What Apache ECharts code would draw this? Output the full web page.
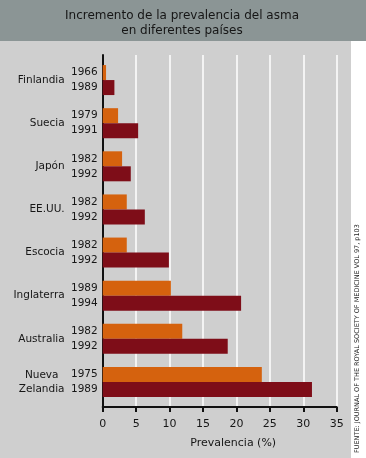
<!DOCTYPE html>
<html>
<head>
<meta charset="utf-8">
<script src="https://cdn.jsdelivr.net/npm/echarts@6/dist/echarts.min.js"></script>
<style>html,body{margin:0;padding:0;background:#fff}#c{width:366px;height:458px}</style>
</head>
<body>
<div id="c"></div>
<script>
var countries = ['Finlandia', 'Suecia', 'Japón', 'EE.UU.', 'Escocia', 'Inglaterra', 'Australia', 'Nueva Zelandia'];
var yearsFirst = ['1966', '1979', '1982', '1982', '1982', '1989', '1982', '1975'];
var yearsSecond = ['1989', '1991', '1992', '1992', '1992', '1994', '1992', '1989'];
var valuesFirst = [0.5, 2.3, 2.9, 3.6, 3.6, 10.2, 11.9, 23.8];
var valuesSecond = [1.75, 5.3, 4.2, 6.3, 9.9, 20.7, 18.7, 31.3];
var xTicks = [0, 5, 10, 15, 20, 25, 30, 35];

var FONT = 'DejaVu Sans';
var chart = echarts.init(document.getElementById('c'));
var L = 102.7, R = 366 - 336.7;
chart.setOption({
  animation: false,
  textStyle: { fontFamily: FONT },
  graphic: [
    { type: 'rect', z: -10, shape: { x: 0, y: 0, width: 366, height: 41 }, style: { fill: '#8b9595' } },
    { type: 'rect', z: -10, shape: { x: 0, y: 41, width: 351, height: 417 }, style: { fill: '#cfcfcf' } },
    { type: 'text', x: 182, y: 23, style: { text: 'Incremento de la prevalencia del asma\nen diferentes países', fontFamily: FONT, fontSize: 12, lineHeight: 15, fill: '#161616', align: 'center', verticalAlign: 'middle' } },
    { type: 'text', x: 357, y: 453, rotation: Math.PI / 2, style: { text: 'FUENTE: JOURNAL OF THE ROYAL SOCIETY OF MEDICINE VOL 97, p103', fontFamily: FONT, fontSize: 6.5, fill: '#222', align: 'left', verticalAlign: 'middle' } }
  ],
  grid: [
    { left: L, right: R, top: 55, height: 352 },
    { left: L, right: R, top: 58.5, height: 345 }
  ],
  xAxis: [
    { gridIndex: 0, type: 'value', min: xTicks[0], max: xTicks[xTicks.length - 1], interval: 5,
      axisLine: { show: true, lineStyle: { color: '#111', width: 2 } },
      axisTick: { show: true, length: 5, lineStyle: { color: '#111', width: 2 } },
      axisLabel: { fontSize: 11, color: '#161616', margin: 12, fontFamily: FONT },
      splitLine: { show: true, lineStyle: { color: '#ffffff', width: 1.5 } },
      name: 'Prevalencia (%)', nameLocation: 'middle', nameGap: 31,
      nameTextStyle: { fontSize: 11, color: '#161616', fontFamily: FONT, padding: [0, 0, 0, 27] } },
    { gridIndex: 1, type: 'value', min: 0, max: 35, show: false }
  ],
  yAxis: [
    { gridIndex: 0, type: 'value', min: 0, max: 1,
      axisLine: { show: true, lineStyle: { color: '#111', width: 2 } },
      axisTick: { show: false }, axisLabel: { show: false }, splitLine: { show: false } },
    { gridIndex: 1, type: 'category', data: countries, inverse: true,
      axisLine: { show: false }, axisTick: { show: false },
      axisLabel: { margin: 38, fontSize: 10.5, color: '#161616', fontFamily: FONT, align: 'right',
        formatter: function (v) {
          if (v.indexOf(' ') > 0) {
            return v.split(' ').map(function (s) { return '{c|' + s + '}'; }).join('\n');
          }
          return v;
        },
        rich: { c: { width: 46, align: 'center', fontSize: 10.5, lineHeight: 14, color: '#161616', fontFamily: FONT } }
      } }
  ],
  series: [
    { type: 'bar', xAxisIndex: 1, yAxisIndex: 1, data: valuesFirst, barWidth: 15, barGap: '0%',
      itemStyle: { color: '#d5620e' },
      label: { show: true, position: 'left', distance: 5, fontSize: 10.5, color: '#161616', fontFamily: FONT,
        formatter: function (p) { return yearsFirst[p.dataIndex]; } } },
    { type: 'bar', xAxisIndex: 1, yAxisIndex: 1, data: valuesSecond, barWidth: 15, barGap: '0%',
      itemStyle: { color: '#7e0d18' },
      label: { show: true, position: 'left', distance: 5, fontSize: 10.5, color: '#161616', fontFamily: FONT,
        formatter: function (p) { return yearsSecond[p.dataIndex]; } } }
  ]
});
</script>
</body>
</html>
